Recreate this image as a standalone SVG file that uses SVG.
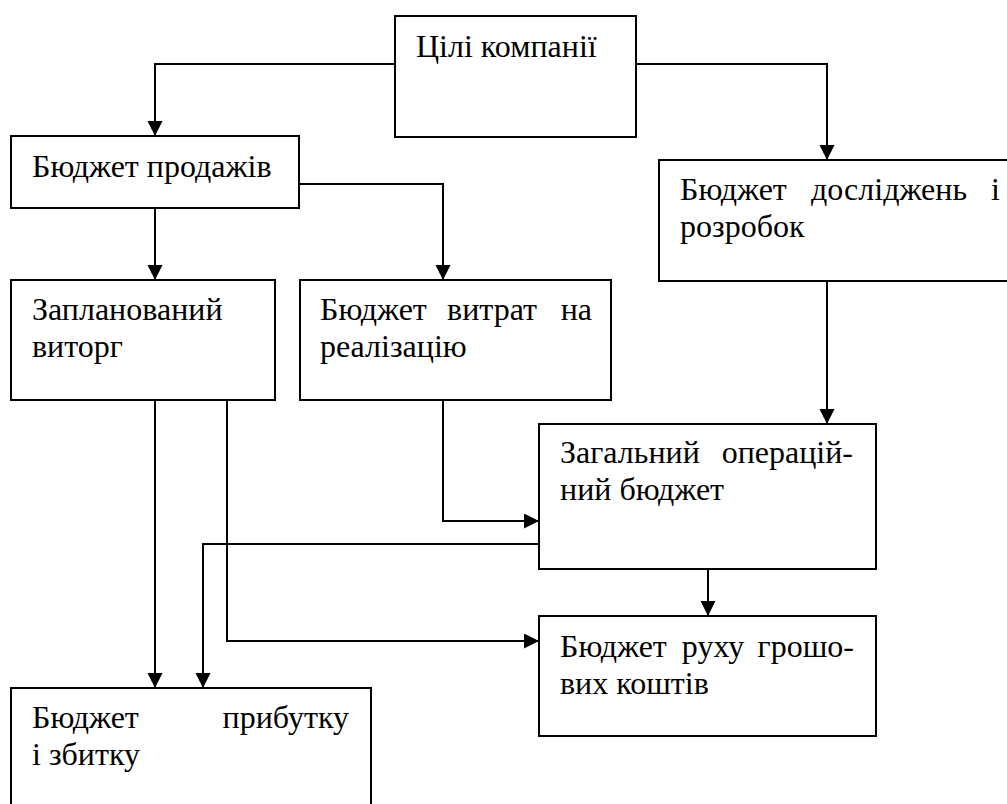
<svg xmlns="http://www.w3.org/2000/svg" width="1007" height="804" viewBox="0 0 1007 804">
<style>
.box{fill:#fff;stroke:#000;stroke-width:2}
.t{font-family:"Liberation Serif","Times New Roman",serif;font-size:32px;fill:#000}
.e{text-anchor:end}
.m{text-anchor:middle}
.c{fill:none;stroke:#000;stroke-width:2}
</style>
<defs>
<marker id="ah" markerUnits="userSpaceOnUse" markerWidth="16" markerHeight="16" refX="15" refY="7.5" orient="auto">
<path d="M0,0 L15,7.5 L0,15 Z" fill="#000"/>
</marker>
</defs>
<rect width="1007" height="804" fill="#fff"/>
<g id="connectors">
<polyline class="c" points="395,64 155,64 155,136" marker-end="url(#ah)"/>
<polyline class="c" points="636,64 827,64 827,160" marker-end="url(#ah)"/>
<polyline class="c" points="155,208 155,280" marker-end="url(#ah)"/>
<polyline class="c" points="299,184 443,184 443,280" marker-end="url(#ah)"/>
<polyline class="c" points="827,281 827,424" marker-end="url(#ah)"/>
<polyline class="c" points="443,400 443,521 539,521" marker-end="url(#ah)"/>
<polyline class="c" points="539,544 203,544 203,688" marker-end="url(#ah)"/>
<polyline class="c" points="155,400 155,688" marker-end="url(#ah)"/>
<polyline class="c" points="227,400 227,641 539,641" marker-end="url(#ah)"/>
<polyline class="c" points="708,569 708,616" marker-end="url(#ah)"/>
</g>
<g id="goals">
<rect class="box" x="395" y="16" width="241" height="121"/>
<text class="t" x="416" y="57">Цілі компанії</text>
</g>
<g id="sales">
<rect class="box" x="11" y="136" width="288" height="72"/>
<text class="t" x="32" y="177">Бюджет продажів</text>
</g>
<g id="rnd">
<rect class="box" x="659" y="160" width="360" height="121"/>
<text class="t" x="680" y="200">Бюджет</text>
<text class="t m" x="889" y="200">досліджень</text>
<text class="t e" x="1000" y="200">і</text>
<text class="t" x="680" y="237">розробок</text>
</g>
<g id="revenue">
<rect class="box" x="11" y="280" width="264" height="120"/>
<text class="t" x="32" y="320">Запланований</text>
<text class="t" x="32" y="357">виторг</text>
</g>
<g id="selling">
<rect class="box" x="300" y="280" width="311" height="120"/>
<text class="t" x="320" y="320">Бюджет</text>
<text class="t m" x="492" y="320">витрат</text>
<text class="t e" x="592" y="320">на</text>
<text class="t" x="320" y="357">реалізацію</text>
</g>
<g id="operating">
<rect class="box" x="539" y="424" width="337" height="145"/>
<text class="t" x="560" y="463">Загальний</text>
<text class="t e" x="853" y="463">операцій-</text>
<text class="t" x="560" y="500">ний бюджет</text>
</g>
<g id="cashflow">
<rect class="box" x="539" y="616" width="337" height="120"/>
<text class="t" x="560" y="657">Бюджет</text>
<text class="t m" x="713" y="657">руху</text>
<text class="t e" x="854" y="657">грошо-</text>
<text class="t" x="560" y="694">вих коштів</text>
</g>
<g id="profit">
<rect class="box" x="11" y="688" width="360" height="130"/>
<text class="t" x="32" y="728">Бюджет</text>
<text class="t e" x="349" y="728">прибутку</text>
<text class="t" x="32" y="765">і збитку</text>
</g>
</svg>
